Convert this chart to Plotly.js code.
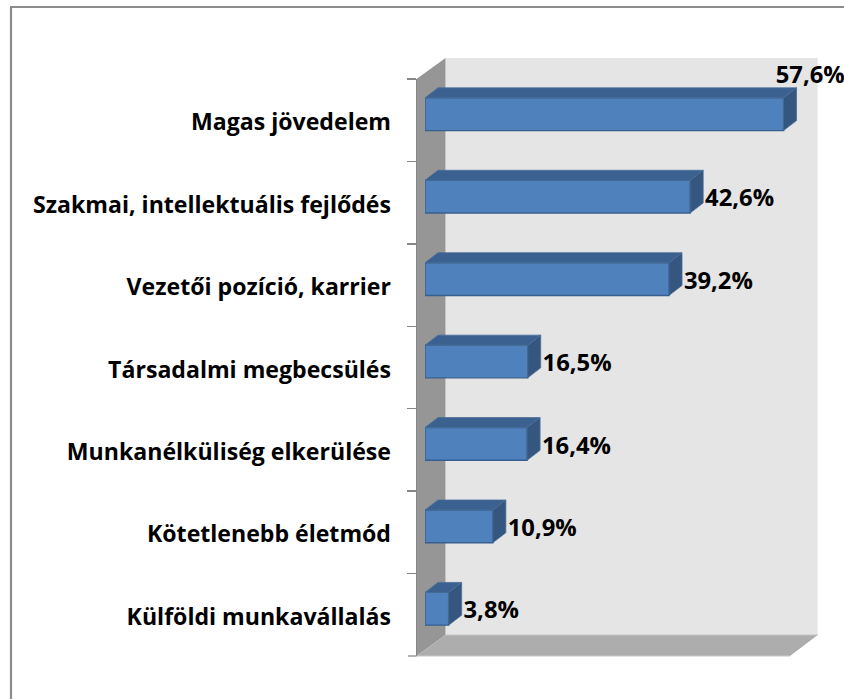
<!DOCTYPE html>
<html><head><meta charset="utf-8">
<script src="https://cdn.plot.ly/plotly-3.0.1.min.js"></script>
<style>html,body{margin:0;padding:0;background:#fff}#c{width:844px;height:699px}</style></head>
<body><div id="c"></div>
<script>
const categories = ["Magas jövedelem","Szakmai, intellektuális fejlődés","Vezetői pozíció, karrier","Társadalmi megbecsülés","Munkanélküliség elkerülése","Kötetlenebb életmód","Külföldi munkavállalás"];
const values = [57.6,42.6,39.2,16.5,16.4,10.9,3.8];

const W=844,H=699;
const px=x=>x/W, py=y=>1-y/H;
const fx0=416.5, fx1=790, fy0=79, fy1=656;      // front plane of the box
const wdx=29, wdy=-21;                           // box depth
const bdxOff=8.5, bdyOff=-6;                     // plane the bars start on
const xMax=60, unit=(fx1-fx0)/xMax, band=(fy1-fy0)/categories.length;
const depthX=13/unit, depthY=10/band, barW=0.397;
const idx=categories.map((_,i)=>i);
const catFont={family:'"Open Sans", sans-serif',size:23.1,color:'#000',weight:700};
const valFont={family:'"Open Sans", sans-serif',size:23.8,color:'#000',weight:700};

const poly=(pts,fill)=>({type:'path',xref:'paper',yref:'paper',layer:'below',line:{width:0},fillcolor:fill,
  path:'M'+pts.map(p=>px(p[0])+','+py(p[1])).join('L')+'Z'});
const line=(x0,y0,x1,y1,c,w)=>({type:'line',xref:'paper',yref:'paper',layer:'below',line:{color:c,width:w},x0:px(x0),y0:py(y0),x1:px(x1),y1:py(y1)});
const shapes=[
  line(11,7,11,699,'#8c8c8c',2.2),
  line(10,7,844,7,'#8c8c8c',2.2),
  poly([[fx0+wdx,fy0+wdy],[817.7,fy0+wdy],[817.7,fy1+wdy],[fx0+wdx,fy1+wdy]],'#e5e5e5'),
  poly([[fx0,fy0],[fx0+wdx,fy0+wdy],[fx0+wdx,fy1+wdy],[fx0,fy1]],'#969696'),
  poly([[fx0,fy1],[fx0+wdx,fy1+wdy],[817.7,fy1+wdy],[fx1,fy1]],'#adadad'),
  line(fx0+wdx,fy1+wdy,817.7,fy1+wdy,'#c4c4c4',1),
  line(fx0,fy1,fx1,fy1,'#c8c8c8',1),
  line(fx0,fy0,fx0,fy1,'#868686',1),
  line(fx0-8.5,fy1,fx0,fy1,'#868686',1.3)
];

const faces=(fn,color)=>({type:'scatter',mode:'lines',xaxis:'x',yaxis:'y',fill:'toself',fillcolor:color,
  line:{color:'#4a6f99',width:0.8},hoverinfo:'skip',showlegend:false,
  x:values.flatMap(v=>fn(v).map(p=>p[0]).concat([null])),
  y:idx.flatMap(i=>fn(values[i]).map(p=>i+p[1]).concat([null]))});
const h=barW/2;
const topFace=faces(v=>[[0,-h],[v,-h],[v+depthX,-h-depthY],[depthX,-h-depthY],[0,-h]],'#3a618f');
const sideFace=faces(v=>[[v,-h],[v+depthX,-h-depthY],[v+depthX,h-depthY],[v,h],[v,-h]],'#34567f');

const bars={type:'bar',orientation:'h',x:values,y:idx,width:barW,xaxis:'x',yaxis:'y',
  marker:{color:'#4f81bd',line:{color:'#37608f',width:1.4}},hoverinfo:'skip',showlegend:false};

const labels={type:'scatter',mode:'text',xaxis:'x',yaxis:'y',cliponaxis:false,
  x:values.map((v,i)=>i===0? v-1.25 : v+depthX+0.3),
  y:idx.map(i=>i===0? i-0.445 : i+0.045),
  text:values.map(v=>v.toFixed(1).replace('.',',')+'%'),
  textposition:'middle right',textfont:valFont,
  hoverinfo:'skip',showlegend:false};

const ghost=(xa,ya)=>({type:'scatter',mode:'markers',x:values,y:categories,xaxis:xa,yaxis:ya,
  marker:{opacity:0,size:1},hoverinfo:'skip',showlegend:false});

const catBase={type:'category',categoryorder:'array',categoryarray:categories,range:[6.5,-0.5],
  side:'left',showgrid:false,zeroline:false,showline:false,automargin:false,fixedrange:true};

const layout={width:W,height:H,margin:{l:0,r:0,t:0,b:0},paper_bgcolor:'#fff',plot_bgcolor:'rgba(0,0,0,0)',
  showlegend:false,shapes,
  xaxis:{domain:[px(fx0+bdxOff),px(fx1+bdxOff)],range:[0,xMax],visible:false,anchor:'y',fixedrange:true},
  yaxis:{domain:[py(fy1+bdyOff),py(fy0+bdyOff)],range:[6.5,-0.5],visible:false,anchor:'x',fixedrange:true},
  xaxis2:{domain:[px(fx0),px(fx1)],range:[0,xMax],visible:false,anchor:'y2',fixedrange:true},
  yaxis2:Object.assign({},catBase,{domain:[py(fy1),py(fy0)],anchor:'x2',tickson:'boundaries',ticks:'outside',ticklen:8.5,tickcolor:'#868686',tickwidth:1.3,showticklabels:false}),
  yaxis3:Object.assign({},catBase,{domain:[py(fy1+2),py(fy0+2)],anchor:'free',position:px(391),ticks:'',showticklabels:true,tickfont:catFont})
};
Plotly.newPlot('c',[ghost('x2','y2'),ghost('x2','y3'),bars,topFace,sideFace,labels],layout,{displayModeBar:false,staticPlot:true});
</script></body></html>
